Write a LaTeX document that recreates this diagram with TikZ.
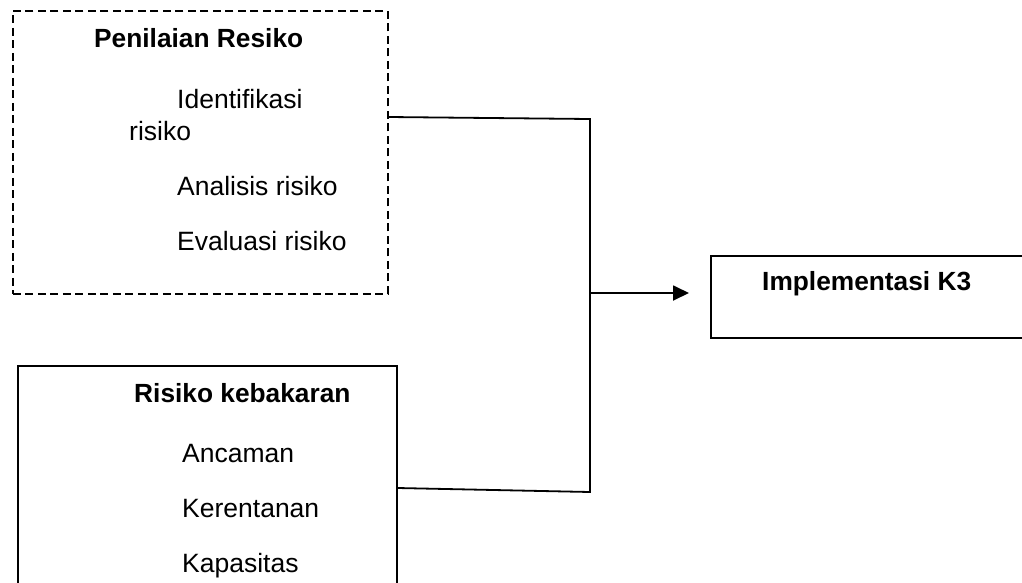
\documentclass[tikz,border=0pt]{standalone}
\usepackage{fontspec}
\setmainfont{Liberation Sans}
\usetikzlibrary{arrows.meta}
\begin{document}
\begin{tikzpicture}[x=1pt,y=-1pt,
  every node/.style={font=\fontsize{26.5}{31}\selectfont},
  boxline/.style={draw=black,line width=1.8pt,fill=none,inner sep=0pt,anchor=north west},
  dashbox/.style={boxline,dash pattern=on 8pt off 4.5pt},
  lbl/.style={anchor=base west,inner sep=0pt},
  head/.style={lbl,font=\fontsize{26.3}{31}\selectfont\bfseries},
  conn/.style={draw=black,line width=1.8pt}]
\clip (0,0) rectangle (1022,582);
\fill[white] (0,0) rectangle (1022,582);
% boxes
\node[dashbox,minimum width=375pt,minimum height=283pt] (pr) at (12,10) {};
\node[boxline,minimum width=379pt,minimum height=240pt] (rk) at (17,365) {};
\node[boxline,minimum width=330pt,minimum height=82pt] (ik) at (710,255) {};
% texts
\node[head] (t1) at (94,47) {Penilaian Resiko};
\node[lbl] (t2) at (177,108) {Identifikasi};
\node[lbl] (t3) at (129,140) {risiko};
\node[lbl] (t4) at (177,195) {Analisis risiko};
\node[lbl] (t5) at (177,250) {Evaluasi risiko};
\node[head] (t6) at (134,402) {Risiko kebakaran};
\node[lbl] (t7) at (182,462) {Ancaman};
\node[lbl] (t8) at (182,517) {Kerentanan};
\node[lbl] (t9) at (182,572) {Kapasitas};
\node[head] (t10) at (762,290) {Implementasi K3};
% connectors
\coordinate (a1) at (pr.east |- 0,117);
\coordinate (j1) at (590,119);
\coordinate (j2) at (590,492);
\coordinate (b1) at (rk.east |- 0,488);
\coordinate (m) at (590,293);
\coordinate (tip) at (689,293);
\draw[conn] (a1) -- (j1) -- (j2) -- (b1);
\draw[conn,-{Triangle[length=16pt,width=15pt]}] (m) -- (tip);
\end{tikzpicture}
\end{document}
